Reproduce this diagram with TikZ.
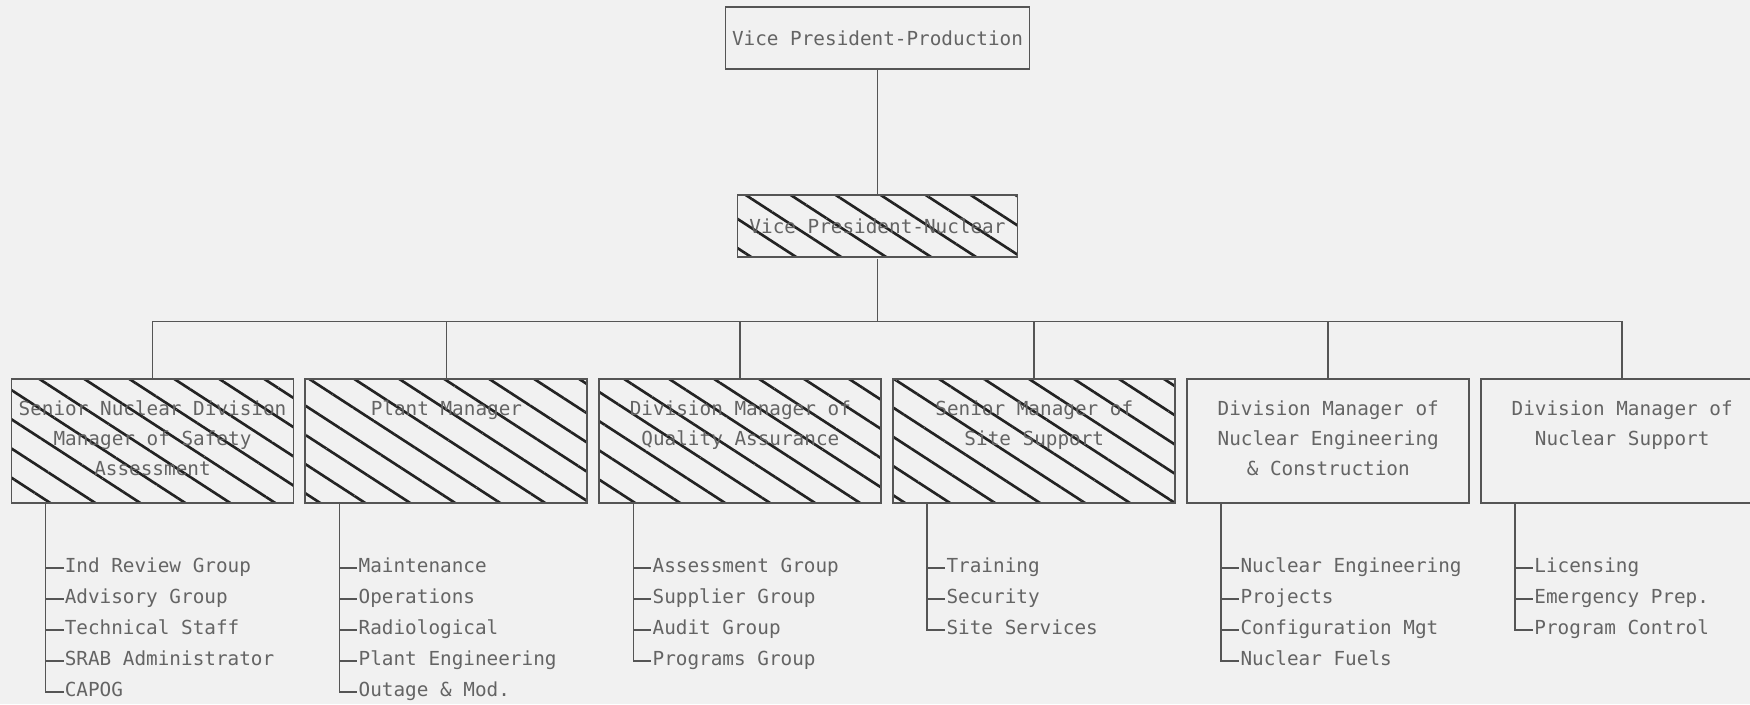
\documentclass[tikz,border=0pt]{standalone}
\usepackage{fontspec}
\newfontfamily\chartfamily{DejaVu Sans Mono}
\usetikzlibrary{positioning, patterns.meta}

\definecolor{paper}{RGB}{241,241,241}
\definecolor{ink}{RGB}{85,85,85}
\definecolor{typeink}{RGB}{100,100,100}
\definecolor{hatchink}{RGB}{35,35,35}

\newcommand{\chartfont}{\chartfamily\fontsize{11pt}{17.07pt}\selectfont}
\newcommand{\officetext}[1]{\parbox[c][2.48cm][t]{5.5cm}{\centering\vspace*{0.32cm}\strut #1}}

\begin{document}
\begin{tikzpicture}[
    office/.style={rectangle, draw=ink, line width=1.1pt, minimum width=5.64cm, minimum height=2.48cm, inner sep=0pt, font=\chartfont, text=typeink},
    topoffice/.style={rectangle, draw=ink, line width=1.1pt, minimum height=1.24cm, inner sep=0pt, font=\chartfont, text=typeink},
    hatched/.style={pattern={Lines[angle=-33, distance=0.49cm, line width=1.5pt]}, pattern color=hatchink},
    item/.style={anchor=west, inner sep=0.5pt, text height=8pt, text depth=2.5pt, font=\chartfont, text=typeink},
    link/.style={draw=ink, line width=1pt}
]

\path[use as bounding box, fill=paper] (0,0) rectangle (35,14.08);

% ==== Vice presidents ====
\node[topoffice, minimum width=6.08cm] (vpprod) at (17.55,13.32) {Vice President-Production};
\node[topoffice, hatched, minimum width=5.6cm, below=2.48cm of vpprod] (vpnuc) {Vice President-Nuclear};
\coordinate[below=1.26cm of vpnuc.south] (hub);

% ==== Division offices ====
\node[office, hatched] (safety) at (3.05,5.26) {\officetext{Senior Nuclear Division\\Manager of Safety\\Assessment}};
\node[office, hatched, right=0.2cm of safety] (plant) {\officetext{Plant Manager}};
\node[office, hatched, right=0.2cm of plant] (qa) {\officetext{Division Manager of\\Quality Assurance}};
\node[office, hatched, right=0.2cm of qa] (site) {\officetext{Senior Manager of\\Site Support}};
\node[office, right=0.2cm of site] (eng) {\officetext{Division Manager of\\Nuclear Engineering\\\& Construction}};
\node[office, right=0.2cm of eng] (support) {\officetext{Division Manager of\\Nuclear Support}};

% ==== Reporting lines ====
\draw[link] (vpprod) -- (vpnuc);
\draw[link] (vpnuc) -- (hub);
\draw[link] (safety.north) |- (hub) -| (support.north);
\draw[link] (plant.north) -- (plant.north |- hub);
\draw[link] (qa.north) -- (qa.north |- hub);
\draw[link] (site.north) -- (site.north |- hub);
\draw[link] (eng.north) -- (eng.north |- hub);

% ==== Groups under each office ====
\coordinate (safety-stem) at ([xshift=0.7cm]safety.south west);
\node[item] (safety-1) at ([xshift=0.36cm, yshift=-1.28cm]safety-stem) {Ind Review Group};
\node[item] (safety-2) at ([yshift=-0.62cm]safety-1.west) {Advisory Group};
\node[item] (safety-3) at ([yshift=-0.62cm]safety-2.west) {Technical Staff};
\node[item] (safety-4) at ([yshift=-0.62cm]safety-3.west) {SRAB Administrator};
\node[item] (safety-5) at ([yshift=-0.62cm]safety-4.west) {CAPOG};
\draw[link] (safety-stem) |- (safety-5.west) (safety-1.west -| safety-stem) -- (safety-1.west) (safety-2.west -| safety-stem) -- (safety-2.west) (safety-3.west -| safety-stem) -- (safety-3.west) (safety-4.west -| safety-stem) -- (safety-4.west);

\coordinate (plant-stem) at ([xshift=0.7cm]plant.south west);
\node[item] (plant-1) at ([xshift=0.36cm, yshift=-1.28cm]plant-stem) {Maintenance};
\node[item] (plant-2) at ([yshift=-0.62cm]plant-1.west) {Operations};
\node[item] (plant-3) at ([yshift=-0.62cm]plant-2.west) {Radiological};
\node[item] (plant-4) at ([yshift=-0.62cm]plant-3.west) {Plant Engineering};
\node[item] (plant-5) at ([yshift=-0.62cm]plant-4.west) {Outage \& Mod.};
\draw[link] (plant-stem) |- (plant-5.west) (plant-1.west -| plant-stem) -- (plant-1.west) (plant-2.west -| plant-stem) -- (plant-2.west) (plant-3.west -| plant-stem) -- (plant-3.west) (plant-4.west -| plant-stem) -- (plant-4.west);

\coordinate (qa-stem) at ([xshift=0.7cm]qa.south west);
\node[item] (qa-1) at ([xshift=0.36cm, yshift=-1.28cm]qa-stem) {Assessment Group};
\node[item] (qa-2) at ([yshift=-0.62cm]qa-1.west) {Supplier Group};
\node[item] (qa-3) at ([yshift=-0.62cm]qa-2.west) {Audit Group};
\node[item] (qa-4) at ([yshift=-0.62cm]qa-3.west) {Programs Group};
\draw[link] (qa-stem) |- (qa-4.west) (qa-1.west -| qa-stem) -- (qa-1.west) (qa-2.west -| qa-stem) -- (qa-2.west) (qa-3.west -| qa-stem) -- (qa-3.west);

\coordinate (site-stem) at ([xshift=0.7cm]site.south west);
\node[item] (site-1) at ([xshift=0.36cm, yshift=-1.28cm]site-stem) {Training};
\node[item] (site-2) at ([yshift=-0.62cm]site-1.west) {Security};
\node[item] (site-3) at ([yshift=-0.62cm]site-2.west) {Site Services};
\draw[link] (site-stem) |- (site-3.west) (site-1.west -| site-stem) -- (site-1.west) (site-2.west -| site-stem) -- (site-2.west);

\coordinate (eng-stem) at ([xshift=0.7cm]eng.south west);
\node[item] (eng-1) at ([xshift=0.36cm, yshift=-1.28cm]eng-stem) {Nuclear Engineering};
\node[item] (eng-2) at ([yshift=-0.62cm]eng-1.west) {Projects};
\node[item] (eng-3) at ([yshift=-0.62cm]eng-2.west) {Configuration Mgt};
\node[item] (eng-4) at ([yshift=-0.62cm]eng-3.west) {Nuclear Fuels};
\draw[link] (eng-stem) |- (eng-4.west) (eng-1.west -| eng-stem) -- (eng-1.west) (eng-2.west -| eng-stem) -- (eng-2.west) (eng-3.west -| eng-stem) -- (eng-3.west);

\coordinate (support-stem) at ([xshift=0.7cm]support.south west);
\node[item] (support-1) at ([xshift=0.36cm, yshift=-1.28cm]support-stem) {Licensing};
\node[item] (support-2) at ([yshift=-0.62cm]support-1.west) {Emergency Prep.};
\node[item] (support-3) at ([yshift=-0.62cm]support-2.west) {Program Control};
\draw[link] (support-stem) |- (support-3.west) (support-1.west -| support-stem) -- (support-1.west) (support-2.west -| support-stem) -- (support-2.west);

\end{tikzpicture}
\end{document}
